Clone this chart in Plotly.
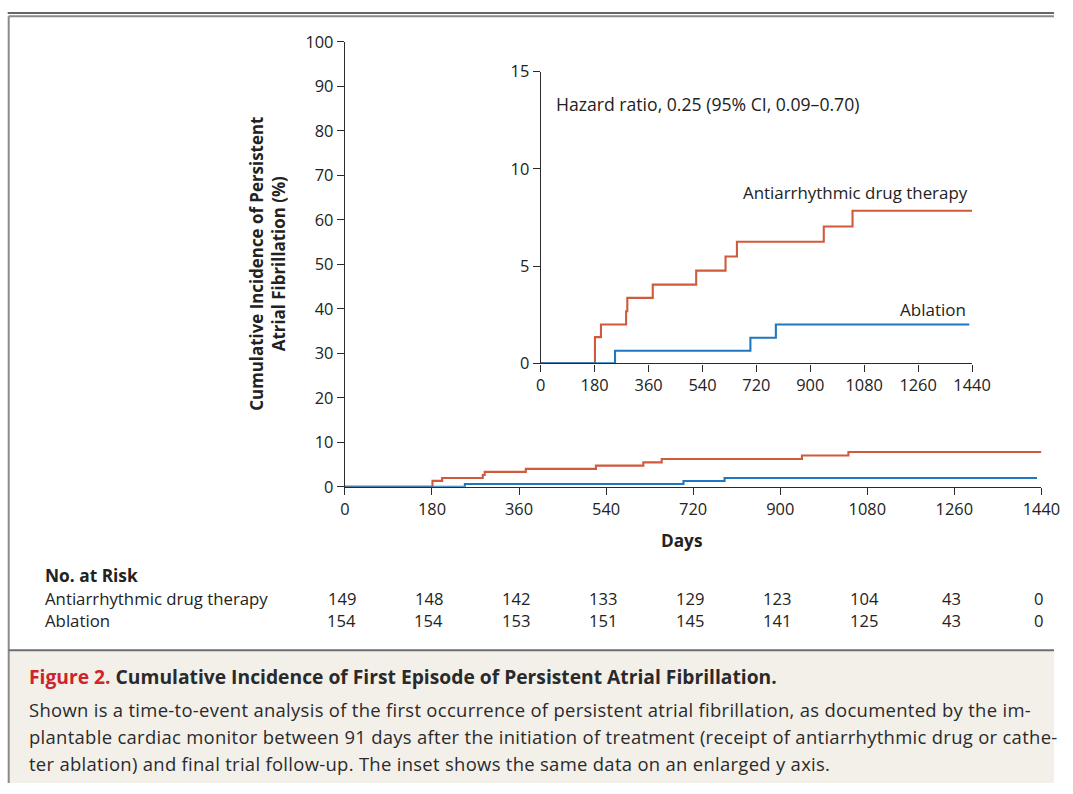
import plotly.graph_objects as go

W, H = 1073, 794

# ---- data ----
drug_days = [0, 181, 201, 285, 289, 374, 519, 617, 655, 945, 1041, 1440]
drug_pct = [0, 1.35, 2.0, 2.68, 3.37, 4.05, 4.77, 5.5, 6.26, 7.04, 7.85, 7.85]
abl_days = [0, 248, 700, 785, 1431]
abl_pct = [0, 0.65, 1.32, 2.0, 2.0]

x_ticks = [0, 180, 360, 540, 720, 900, 1080, 1260, 1440]
main_y_ticks = [0, 10, 20, 30, 40, 50, 60, 70, 80, 90, 100]
inset_y_ticks = [0, 5, 10, 15]

risk_days = [0, 180, 360, 540, 720, 900, 1080, 1260, 1440]
risk_drug = [149, 148, 142, 133, 129, 123, 104, 43, 0]
risk_abl = [154, 154, 153, 151, 145, 141, 125, 43, 0]

RED = "#cf5a3c"
BLUE = "#1f77c0"
AX = "#2b2b2b"
FONT = "'Open Sans', Lato, sans-serif"
TXT = "#222"

# the photographed picture is the page scaled by ~0.977 and shifted by (5, 10);
# layout positions below are given in picture pixels and mapped back to the page
SX, OX, SY, OY = 0.977, 5.3, 0.9754, 10.0
K = 1 / ((SX + SY) / 2)


def px(x):
    return ((x - OX) / SX) / W


def py(y):
    return 1 - ((y - OY) / SY) / H


def fs(s):
    return round(s * K, 2)


fig = go.Figure()

for xa, ya in (("x", "y"), ("x2", "y2")):
    fig.add_trace(go.Scatter(x=drug_days, y=drug_pct, mode="lines",
                             line=dict(color=RED, width=2.1, shape="hv"),
                             xaxis=xa, yaxis=ya, hoverinfo="skip"))
    fig.add_trace(go.Scatter(x=abl_days, y=abl_pct, mode="lines",
                             line=dict(color=BLUE, width=2.1, shape="hv"),
                             xaxis=xa, yaxis=ya, hoverinfo="skip"))

axis_common = dict(showline=True, linecolor=AX, linewidth=1.3, ticks="outside", tickcolor=AX,
                   tickwidth=1.3, showgrid=False, zeroline=False, ticklen=7,
                   tickfont=dict(family=FONT, size=fs(16), color=TXT))

fig.update_layout(
    width=W, height=H,
    margin=dict(l=0, r=0, t=0, b=0),
    paper_bgcolor="white", plot_bgcolor="rgba(0,0,0,0)",
    showlegend=False,
    hovermode=False,
    xaxis=dict(domain=[px(345), px(1041)], range=[0, 1440], tickvals=x_ticks, anchor="y", **axis_common),
    yaxis=dict(domain=[py(487), py(40)], range=[0, 100], tickvals=main_y_ticks, anchor="x", **axis_common),
    xaxis2=dict(domain=[px(540.7), px(971.7)], range=[0, 1440], tickvals=x_ticks, anchor="y2", **axis_common),
    yaxis2=dict(domain=[py(363), py(70)], range=[0, 15], tickvals=inset_y_ticks, anchor="x2", **axis_common),
)

top_rule_y = 1 - 1.0 / H
frame_top_y = 1 - 4.5 / H
shapes = [
    dict(type="rect", xref="paper", yref="paper", x0=px(9), x1=1, y0=0, y1=py(651),
         fillcolor="#f3f0ea", line=dict(width=0), layer="below"),
    dict(type="line", xref="paper", yref="paper", x0=px(8), x1=1, y0=top_rule_y, y1=top_rule_y,
         line=dict(color="#333", width=1.6)),
    dict(type="line", xref="paper", yref="paper", x0=px(9), x1=1, y0=frame_top_y, y1=frame_top_y,
         line=dict(color="#8a8a8a", width=2)),
    dict(type="line", xref="paper", yref="paper", x0=px(9), x1=px(9), y0=frame_top_y, y1=0,
         line=dict(color="#8a8a8a", width=2)),
    dict(type="line", xref="paper", yref="paper", x0=px(9), x1=1, y0=py(651), y1=py(651),
         line=dict(color="#6e6e6e", width=2)),
]
fig.update_layout(shapes=shapes)


def note(text, x, y, size=16, xanchor="center", xref="paper", color=TXT, **kw):
    d = dict(text=text, xref=xref, yref="paper", x=x, y=py(y), xanchor=xanchor, yanchor="middle",
             showarrow=False, font=dict(family=FONT, size=fs(size), color=color))
    d.update(kw)
    return d


ann = []
ann.append(note("<b>Cumulative Incidence of Persistent<br>Atrial Fibrillation (%)</b>", px(268), 263,
                size=16.5, textangle=-90, align="center"))
ann.append(note("<b>Days</b>", px(681), 541, size=16.8))
ann.append(note("Hazard ratio, 0.25 (95% CI, 0.09\u20130.70)", px(554), 102, size=17.2, xanchor="left"))
ann.append(note("Antiarrhythmic drug therapy", px(970), 191, size=16.5, xanchor="right"))
ann.append(note("Ablation", px(968), 309, size=16.6, xanchor="right"))
ann.append(note("<b>No. at Risk</b>", px(43), 576, size=16.9, xanchor="left"))
ann.append(note("Antiarrhythmic drug therapy", px(43), 599, size=16.4, xanchor="left"))
ann.append(note("Ablation", px(43), 621, size=16.4, xanchor="left"))
for d, a, b in zip(risk_days, risk_drug, risk_abl):
    ann.append(note(str(a), d, 599, size=16.2, xref="x", xshift=-3))
    ann.append(note(str(b), d, 621, size=16.2, xref="x", xshift=-3))

ann.append(note("<span style='color:#d1232a'><b>Figure 2.</b></span> "
                "<b>Cumulative Incidence of First Episode of Persistent Atrial Fibrillation.</b>",
                px(27), 677, size=18.8, xanchor="left", color="#2a2a2a"))
cap_lines = [
    "Shown is a time-to-event analysis of the first occurrence of persistent atrial fibrillation, as documented by the im-",
    "plantable cardiac monitor between 91 days after the initiation of treatment (receipt of antiarrhythmic drug or cathe-",
    "ter ablation) and final trial follow-up. The inset shows the same data on an enlarged y axis.",
]
for i, line in enumerate(cap_lines):
    ann.append(note("<span style='letter-spacing:0.3px'>" + line + "</span>", px(27), 711 + 27 * i,
                    size=18, xanchor="left", color="#2a2a2a"))
fig.update_layout(annotations=ann)

fig.write_html("out.html", config={"displayModeBar": False},
               post_script="document.body.style.margin='0';")
